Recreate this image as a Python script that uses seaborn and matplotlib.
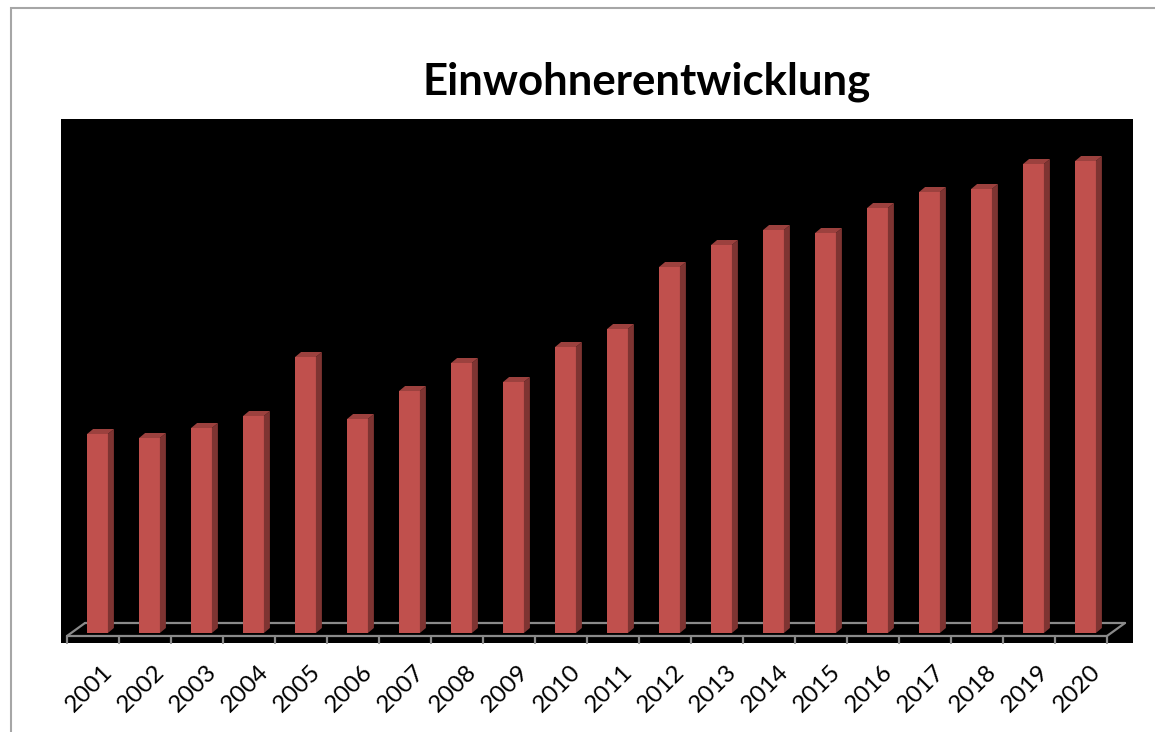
import numpy as np
import matplotlib
matplotlib.use("Agg")
import matplotlib.pyplot as plt
import seaborn as sns
from matplotlib.patches import Polygon, Rectangle

jahre = [str(j) for j in range(2001, 2021)]
# bar heights (no y scale shown in the original)
einwohner = [199, 195, 205, 217, 276, 214, 242, 270, 251, 286,
             304, 366, 388, 403, 400, 425, 441, 444, 469, 472]

front_col = "#c0504d"
side_col = "#7e3432"
top_col = "#9c413e"
floor_col = "#8a8a8a"

sns.set_style("white")
plt.rcParams["font.family"] = ["Lato", "DejaVu Sans"]

fig = plt.figure(figsize=(11.55, 7.32), dpi=100)
W, H = 1155, 732
ax = fig.add_axes([61 / W, (H - 643) / H, (1133 - 61) / W, (643 - 119) / H])
ax.set_facecolor("black")

sns.barplot(x=jahre, y=einwohner, color=front_col, saturation=1, width=0.40,
            ax=ax, zorder=3)

# 3d look: side and top faces from the drawn bars
px = 1 / 52.0
dx, dy = 6 * px, 5
for p in ax.patches:
    x0, w, h = p.get_x(), p.get_width(), p.get_height()
    x1 = x0 + w
    side = Polygon([(x1, 0), (x1 + dx, dy), (x1 + dx, h + dy), (x1, h)],
                   closed=True, fc=side_col, ec="none", zorder=3)
    top = Polygon([(x0, h), (x0 + dx, h + dy), (x1 + dx, h + dy), (x1, h)],
                  closed=True, fc=top_col, ec="none", zorder=3)
    ax.add_patch(side)
    ax.add_patch(top)
    p.set_edgecolor("none")

# floor
n = len(jahre)
fl = -0.5 - 4.5 * px
fr = fl + n
fdx, fdy = 18 * px, 13
ax.plot([fl, fr], [-3, -3], color=floor_col, lw=1.6, zorder=2, clip_on=False)
ax.plot([fl + fdx, fr + fdx], [-3 + fdy, -3 + fdy], color=floor_col, lw=1.6, zorder=1)
ax.plot([fl, fl + fdx], [-3, -3 + fdy], color=floor_col, lw=1.6, zorder=1)
ax.plot([fr, fr + fdx], [-3, -3 + fdy], color=floor_col, lw=1.6, zorder=1)
for k in range(n + 1):
    ax.plot([fl + k, fl + k], [-3, -10], color=floor_col, lw=1.6, zorder=1,
            clip_on=False)

ax.set_xlim(fl - 6 * px, fr + 26 * px)
ax.set_ylim(-10, 514)
ax.set_xticks(np.arange(n) + 4 * px)
ax.set_xticklabels(jahre, rotation=45, ha="right", va="top",
                   rotation_mode="anchor", fontsize=17.5, color="black")
ax.tick_params(axis="x", length=0, pad=13)
ax.set_yticks([])
ax.set_xlabel("")
ax.set_ylabel("")
for s in ax.spines.values():
    s.set_visible(False)

fig.text(647 / W, 1 - 82 / H, "Einwohnerentwicklung", ha="center", va="center",
         fontsize=31.5, fontweight="bold", color="black")

# outer chart border
fig.add_artist(Rectangle((11 / W, -0.05), 1.2, 1 - 8 / H + 0.05,
                         transform=fig.transFigure, fill=False,
                         ec="#a6a6a6", lw=1.5, clip_on=False))

fig.savefig("out.png", dpi=100)
